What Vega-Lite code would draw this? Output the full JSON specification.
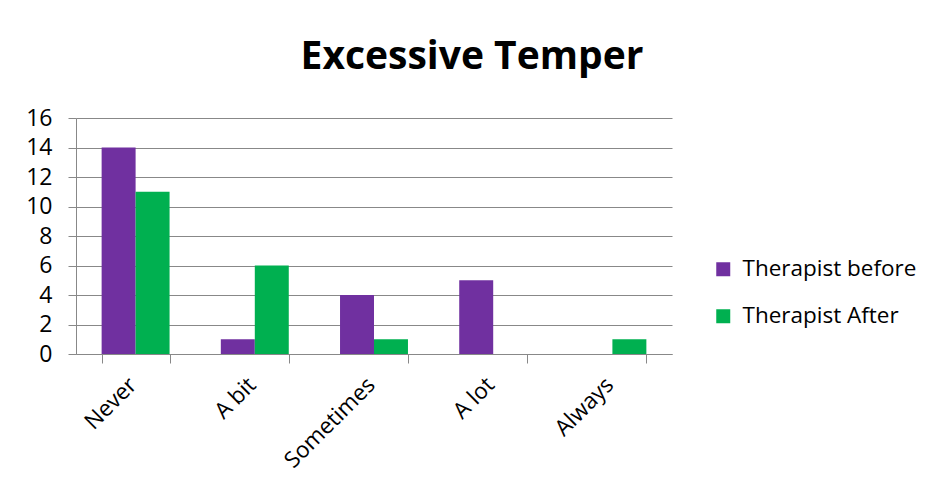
{
  "$schema": "https://vega.github.io/schema/vega-lite/v6.json",
  "width": 596,
  "height": 236,
  "autosize": {"type": "none"},
  "padding": {"left": 76, "top": 118, "right": 258, "bottom": 138},
  "background": "white",
  "title": {
    "text": "Excessive Temper",
    "font": "Open Sans",
    "fontSize": 39,
    "fontWeight": "bold",
    "color": "black",
    "anchor": "middle",
    "frame": "group",
    "dx": 98,
    "offset": 30
  },
  "data": {
    "values": [
      {"category": "Never", "series": "Therapist before", "value": 14},
      {"category": "Never", "series": "Therapist After", "value": 11},
      {"category": "A bit", "series": "Therapist before", "value": 1},
      {"category": "A bit", "series": "Therapist After", "value": 6},
      {"category": "Sometimes", "series": "Therapist before", "value": 4},
      {"category": "Sometimes", "series": "Therapist After", "value": 1},
      {"category": "A lot", "series": "Therapist before", "value": 5},
      {"category": "A lot", "series": "Therapist After", "value": 0},
      {"category": "Always", "series": "Therapist before", "value": 0},
      {"category": "Always", "series": "Therapist After", "value": 1}
    ]
  },
  "mark": {"type": "bar"},
  "encoding": {
    "x": {
      "field": "category",
      "type": "nominal",
      "sort": ["Never", "A bit", "Sometimes", "A lot", "Always"],
      "scale": {"paddingInner": 0.43, "paddingOuter": 0.215},
      "axis": {
        "title": null,
        "labelAngle": -45,
        "labelAlign": "right",
        "labelBaseline": "middle",
        "tickBand": "extent",
        "domainColor": "#888888",
        "tickColor": "#888888",
        "tickSize": 9,
        "labelFont": "Open Sans",
        "labelFontSize": 22.5,
        "labelColor": "black",
        "labelPadding": 18,
        "labelOffset": -3,
        "grid": false
      }
    },
    "xOffset": {
      "field": "series",
      "type": "nominal",
      "sort": ["Therapist before", "Therapist After"]
    },
    "y": {
      "field": "value",
      "type": "quantitative",
      "scale": {"domain": [0, 16], "nice": false},
      "axis": {
        "title": null,
        "values": [0, 2, 4, 6, 8, 10, 12, 14, 16],
        "grid": true,
        "gridColor": "#888888",
        "domainColor": "#888888",
        "tickColor": "#888888",
        "tickSize": 8,
        "labelFont": "Open Sans",
        "labelFontSize": 23,
        "labelColor": "black",
        "labelPadding": 16
      }
    },
    "color": {
      "field": "series",
      "type": "nominal",
      "scale": {
        "domain": ["Therapist before", "Therapist After"],
        "range": ["#7030A0", "#00B050"]
      },
      "legend": {
        "title": null,
        "orient": "none",
        "legendX": 636,
        "legendY": 140,
        "symbolType": "square",
        "symbolSize": 196,
        "symbolStrokeWidth": 0,
        "labelFont": "Open Sans",
        "labelFontSize": 22.5,
        "labelLimit": 400,
        "labelColor": "black",
        "labelOffset": 8,
        "rowPadding": 24
      }
    }
  },
  "config": {
    "view": {"stroke": null}
  }
}
